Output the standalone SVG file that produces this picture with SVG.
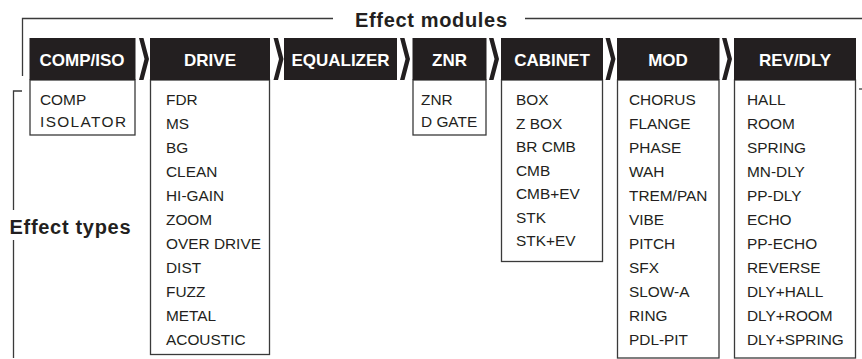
<svg xmlns="http://www.w3.org/2000/svg" width="862" height="359" viewBox="0 0 862 359">
<style>
.hdr{fill:#231f20}
.hdrt{font-family:"Liberation Sans",Arial,sans-serif;font-weight:bold;font-size:17px;fill:#ffffff;text-anchor:middle}
.box{fill:#ffffff;stroke:#3a3a3a;stroke-width:1.3}
.item{font-family:"Liberation Sans",Arial,sans-serif;font-size:15.4px;fill:#231f20}
.lbl{font-family:"Liberation Sans",Arial,sans-serif;font-weight:bold;font-size:20px;fill:#231f20}
.brk{fill:none;stroke:#3a3a3a;stroke-width:1.3}
.chev{fill:#231f20}
</style>
<defs>
<polygon id="chev" points="0,38 4.5,38 10,59 4.5,80 0,80 5.5,59"/>
</defs>
<g id="brackets">
<polyline class="brk" points="22.5,76 22.5,18.5 333,18.5"/>
<line class="brk" x1="525" y1="18.5" x2="862" y2="18.5"/>
<text class="lbl" x="355" y="26.5" textLength="152" lengthAdjust="spacing">Effect modules</text>
<polyline class="brk" points="22,91 13.5,91 13.5,210"/>
<line class="brk" x1="13.5" y1="240" x2="13.5" y2="358"/>
<line class="brk" x1="859" y1="89" x2="862" y2="89"/>
<text class="lbl" x="9.5" y="233.5" textLength="121" lengthAdjust="spacing">Effect types</text>
</g>
<g id="connectors">
<use href="#chev" class="chev" x="139"/>
<use href="#chev" class="chev" x="273.5"/>
<use href="#chev" class="chev" x="400"/>
<use href="#chev" class="chev" x="489"/>
<use href="#chev" class="chev" x="605.5"/>
<use href="#chev" class="chev" x="722"/>
</g>
<g id="comp-iso">
<rect class="box" x="30" y="80" width="105" height="55"/>
<rect class="hdr" x="29.5" y="38" width="106" height="42"/>
<text class="hdrt" x="82" y="65.5">COMP/ISO</text>
<text class="item" x="40" y="105">COMP</text>
<text class="item" x="40" y="127" textLength="86" lengthAdjust="spacing">ISOLATOR</text>
</g>
<g id="drive">
<rect class="box" x="150.5" y="80" width="119" height="274.5"/>
<rect class="hdr" x="150" y="38" width="120" height="42"/>
<text class="hdrt" x="210" y="65.5">DRIVE</text>
<text class="item" x="166" y="105">FDR</text>
<text class="item" x="166" y="129">MS</text>
<text class="item" x="166" y="153">BG</text>
<text class="item" x="166" y="177">CLEAN</text>
<text class="item" x="166" y="201">HI-GAIN</text>
<text class="item" x="166" y="225">ZOOM</text>
<text class="item" x="166" y="249">OVER DRIVE</text>
<text class="item" x="166" y="273">DIST</text>
<text class="item" x="166" y="297">FUZZ</text>
<text class="item" x="166" y="321">METAL</text>
<text class="item" x="166" y="345">ACOUSTIC</text>
</g>
<g id="equalizer">
<rect class="hdr" x="284" y="38" width="113" height="42"/>
<text class="hdrt" x="340.5" y="65.5">EQUALIZER</text>
</g>
<g id="znr">
<rect class="box" x="413" y="80" width="73" height="55"/>
<rect class="hdr" x="412.5" y="38" width="74" height="42"/>
<text class="hdrt" x="449.5" y="65.5">ZNR</text>
<text class="item" x="421" y="105">ZNR</text>
<text class="item" x="421" y="127">D GATE</text>
</g>
<g id="cabinet">
<rect class="box" x="501.5" y="80" width="101" height="181.5"/>
<rect class="hdr" x="501" y="38" width="102" height="42"/>
<text class="hdrt" x="552" y="65.5">CABINET</text>
<text class="item" x="516" y="105">BOX</text>
<text class="item" x="516" y="128.5">Z BOX</text>
<text class="item" x="516" y="152">BR CMB</text>
<text class="item" x="516" y="175.5">CMB</text>
<text class="item" x="516" y="199">CMB+EV</text>
<text class="item" x="516" y="222.5">STK</text>
<text class="item" x="516" y="246">STK+EV</text>
</g>
<g id="mod">
<rect class="box" x="617.5" y="80" width="101.5" height="278"/>
<rect class="hdr" x="617" y="38" width="102.5" height="42"/>
<text class="hdrt" x="668" y="65.5">MOD</text>
<text class="item" x="629" y="105">CHORUS</text>
<text class="item" x="629" y="129">FLANGE</text>
<text class="item" x="629" y="153">PHASE</text>
<text class="item" x="629" y="177">WAH</text>
<text class="item" x="629" y="201">TREM/PAN</text>
<text class="item" x="629" y="225">VIBE</text>
<text class="item" x="629" y="249">PITCH</text>
<text class="item" x="629" y="273">SFX</text>
<text class="item" x="629" y="297">SLOW-A</text>
<text class="item" x="629" y="321">RING</text>
<text class="item" x="629" y="345">PDL-PIT</text>
</g>
<g id="rev-dly">
<rect class="box" x="734.5" y="80" width="121" height="278"/>
<rect class="hdr" x="734" y="38" width="122" height="42"/>
<text class="hdrt" x="795" y="65.5">REV/DLY</text>
<text class="item" x="747" y="105">HALL</text>
<text class="item" x="747" y="129">ROOM</text>
<text class="item" x="747" y="153">SPRING</text>
<text class="item" x="747" y="177">MN-DLY</text>
<text class="item" x="747" y="201">PP-DLY</text>
<text class="item" x="747" y="225">ECHO</text>
<text class="item" x="747" y="249">PP-ECHO</text>
<text class="item" x="747" y="273">REVERSE</text>
<text class="item" x="747" y="297">DLY+HALL</text>
<text class="item" x="747" y="321">DLY+ROOM</text>
<text class="item" x="747" y="345">DLY+SPRING</text>
</g>
</svg>
